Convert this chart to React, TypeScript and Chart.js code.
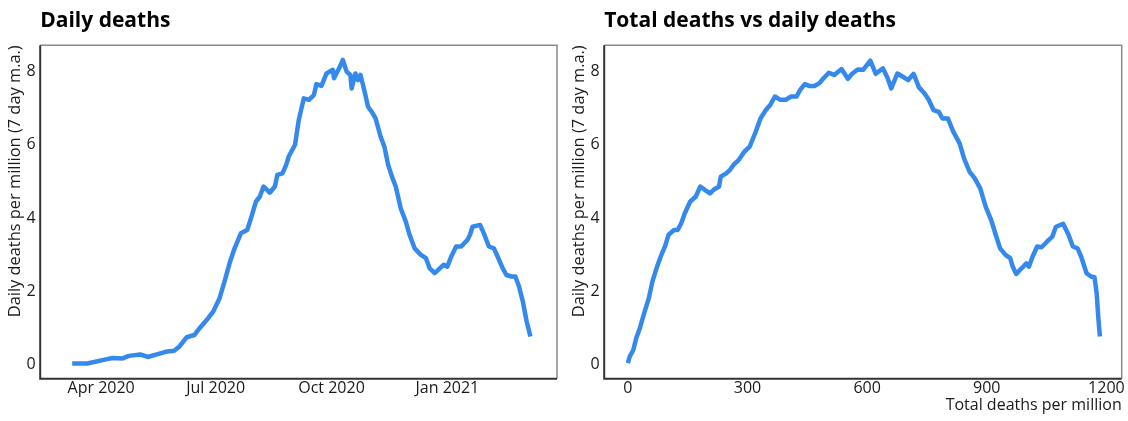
import React, { useEffect, useRef } from 'react';
import { Chart, registerables } from 'chart.js';

Chart.register(...registerables);

// ---- Data ----
const dailyDates = [
  '2020-03-09', '2020-03-21', '2020-04-03', '2020-04-10', '2020-04-18', '2020-04-23',
  '2020-05-02', '2020-05-08', '2020-05-16', '2020-05-22', '2020-05-29', '2020-06-02',
  '2020-06-08', '2020-06-14', '2020-06-18', '2020-06-25', '2020-06-29', '2020-07-04',
  '2020-07-08', '2020-07-12', '2020-07-16', '2020-07-21', '2020-07-26', '2020-07-29',
  '2020-08-02', '2020-08-05', '2020-08-08', '2020-08-13', '2020-08-17', '2020-08-19',
  '2020-08-23', '2020-08-26', '2020-08-28', '2020-09-02', '2020-09-05', '2020-09-09',
  '2020-09-13', '2020-09-17', '2020-09-19', '2020-09-23', '2020-09-27', '2020-10-02',
  '2020-10-03', '2020-10-07', '2020-10-10', '2020-10-13', '2020-10-16', '2020-10-17',
  '2020-10-20', '2020-10-22', '2020-10-24', '2020-10-27', '2020-10-30', '2020-11-02',
  '2020-11-05', '2020-11-09', '2020-11-12', '2020-11-15', '2020-11-18', '2020-11-21',
  '2020-11-25', '2020-11-29', '2020-12-02', '2020-12-06', '2020-12-11', '2020-12-15',
  '2020-12-18', '2020-12-22', '2020-12-26', '2020-12-29', '2021-01-01', '2021-01-04',
  '2021-01-08', '2021-01-12', '2021-01-17', '2021-01-19', '2021-01-21', '2021-01-27',
  '2021-01-30', '2021-02-03', '2021-02-07', '2021-02-10', '2021-02-14', '2021-02-17',
  '2021-02-21', '2021-02-24', '2021-02-27', '2021-03-02', '2021-03-05', '2021-03-08',
];
const dailyDeaths = [
  0.02, 0.02, 0.12, 0.17, 0.16, 0.23,
  0.27, 0.2, 0.28, 0.34, 0.37, 0.48,
  0.74, 0.8, 0.98, 1.26, 1.44, 1.8,
  2.26, 2.76, 3.17, 3.58, 3.67, 3.99,
  4.45, 4.58, 4.86, 4.69, 4.86, 5.18,
  5.22, 5.45, 5.68, 6.0, 6.68, 7.27,
  7.23, 7.36, 7.66, 7.61, 7.95, 8.05,
  7.82, 8.09, 8.32, 8.0, 7.91, 7.54,
  7.95, 7.77, 7.91, 7.5, 7.04, 6.9,
  6.72, 6.22, 5.95, 5.45, 5.13, 4.86,
  4.26, 3.9, 3.54, 3.17, 2.99, 2.9,
  2.62, 2.49, 2.62, 2.72, 2.67, 2.94,
  3.22, 3.22, 3.4, 3.54, 3.76, 3.81,
  3.58, 3.22, 3.17, 2.94, 2.62, 2.44,
  2.4, 2.4, 2.12, 1.71, 1.17, 0.76,
];

const totalDeaths = [
  0, 4.5, 13.6, 20.8, 29.8, 40.7, 52.4, 61.4, 73.2, 82.2,
  93, 102, 115.7, 124.7, 133.7, 142.7, 156.4, 170, 181.7, 192.6,
  206, 215, 228.6, 233, 246.7, 255.7, 264.7, 278.3, 291.9, 305.4,
  319, 332.5, 346, 357, 368.8, 382.4, 396, 409.3, 423, 432,
  443.7, 454.5, 468, 479.8, 490.6, 504, 517.6, 535.8, 552, 563,
  576.5, 590, 608, 621.6, 639.7, 651.5, 660.5, 675.9, 689.4, 703,
  716.6, 730, 743.6, 754.5, 766.3, 779.8, 788.9, 802.4, 816, 832,
  843, 856.6, 870, 883.6, 897.2, 910.8, 922.5, 933.4, 947, 958.7,
  965, 974, 983, 992, 999.4, 1005.7, 1014.8, 1026.5, 1037.3, 1050.9,
  1064.4, 1073.4, 1091.5, 1105, 1115.9, 1127.7, 1136.8, 1150.3, 1161.2, 1170.2,
  1175.6, 1180.2, 1183.8,
];
const totalVsDaily = [
  0.03, 0.21, 0.39, 0.71, 0.98, 1.39, 1.8, 2.26, 2.67, 2.94,
  3.22, 3.54, 3.67, 3.67, 3.85, 4.13, 4.45, 4.58, 4.86, 4.77,
  4.67, 4.77, 4.86, 5.13, 5.22, 5.31, 5.45, 5.59, 5.81, 5.95,
  6.31, 6.72, 6.95, 7.09, 7.32, 7.23, 7.23, 7.32, 7.32, 7.5,
  7.66, 7.61, 7.61, 7.68, 7.82, 7.97, 7.91, 8.07, 7.8, 7.95,
  8.06, 8.05, 8.3, 7.94, 8.09, 7.82, 7.54, 7.95, 7.86, 7.77,
  7.94, 7.57, 7.41, 7.23, 6.95, 6.9, 6.72, 6.72, 6.36, 6.04,
  5.63, 5.27, 5.08, 4.81, 4.31, 3.95, 3.54, 3.17, 2.99, 2.9,
  2.67, 2.47, 2.58, 2.67, 2.76, 2.67, 2.94, 3.22, 3.2, 3.35,
  3.49, 3.76, 3.84, 3.54, 3.22, 3.17, 2.94, 2.49, 2.4, 2.38,
  1.94, 1.21, 0.76,
];

const dateTickDates = ['2020-04-01', '2020-07-01', '2020-10-01', '2021-01-01'];
const dateTickLabels = ['Apr 2020', 'Jul 2020', 'Oct 2020', 'Jan 2021'];
const totalTicks = [0, 300, 600, 900, 1200];
const yTicks = [0, 2, 4, 6, 8];

// ---- Styling / layout ----
const FONT = '"Open Sans", "Noto Sans", sans-serif';
const LINE_COLOR = '#3589EC';
const DAY = 86400000;
const toMs = (s: string) => Date.parse(s + 'T00:00:00Z');
const APR1 = toMs('2020-04-01');

const framePlugin = (title: string) => ({
  id: 'frameTitle',
  afterDraw(chart: any) {
    const { ctx, chartArea } = chart;
    const { left, right, top, bottom } = chartArea;
    ctx.save();
    ctx.strokeStyle = '#8a8a8a';
    ctx.lineWidth = 1.5;
    ctx.beginPath();
    ctx.moveTo(left, top);
    ctx.lineTo(right, top);
    ctx.lineTo(right, bottom);
    ctx.stroke();
    ctx.strokeStyle = '#333333';
    ctx.lineWidth = 2;
    ctx.beginPath();
    ctx.moveTo(left, top);
    ctx.lineTo(left, bottom);
    ctx.lineTo(right, bottom);
    ctx.stroke();
    ctx.fillStyle = '#000000';
    ctx.font = `bold 21px ${FONT}`;
    ctx.textAlign = 'left';
    ctx.textBaseline = 'alphabetic';
    ctx.fillText(title, left, 27);
    ctx.restore();
  },
});

function yScale() {
  return {
    type: 'linear',
    min: -0.394,
    max: 8.72,
    grid: { display: false, drawTicks: false },
    border: { display: false },
    ticks: { font: { family: FONT, size: 16 }, color: '#1a1a1a', padding: 4.5 },
    afterBuildTicks: (s: any) => {
      s.ticks = yTicks.map((v) => ({ value: v }));
    },
    afterFit: (s: any) => {
      s.width = 40.2;
    },
    title: {
      display: true,
      text: 'Daily deaths per million (7 day m.a.)',
      align: 'end',
      color: '#1a1a1a',
      font: { family: FONT, size: 16.4 },
      padding: { top: 5.2, bottom: 0 },
    },
  };
}

function ChartCanvas({ config, left }: { config: any; left: number }) {
  const ref = useRef<HTMLCanvasElement | null>(null);
  useEffect(() => {
    if (!ref.current) return;
    const chart = new Chart(ref.current, config);
    return () => chart.destroy();
  }, [config]);
  return (
    <canvas
      ref={ref}
      width={564}
      height={421}
      style={{ position: 'absolute', left, top: 0, width: 564, height: 421 }}
    />
  );
}

const leftConfig: any = {
  type: 'line',
  data: {
    datasets: [
      {
        data: dailyDates.map((d, i) => ({ x: toMs(d), y: dailyDeaths[i] })),
        borderColor: LINE_COLOR,
        borderWidth: 4.5,
        pointRadius: 0,
        tension: 0,
        borderJoinStyle: 'round',
        fill: false,
      },
    ],
  },
  options: {
    animation: false,
    responsive: false,
    layout: { padding: { left: 0, right: 7, top: 45.3, bottom: 0 } },
    plugins: { legend: { display: false }, title: { display: false }, tooltip: { enabled: false } },
    scales: {
      x: {
        type: 'linear',
        min: APR1 - 48.4 * DAY,
        max: APR1 + 362.1 * DAY,
        grid: { display: false, drawTicks: false },
        border: { display: false },
        ticks: {
          font: { family: FONT, size: 16 },
          color: '#1a1a1a',
          padding: 0.5,
          maxRotation: 0,
          autoSkip: false,
          callback: (_v: any, i: number) => dateTickLabels[i],
        },
        afterBuildTicks: (s: any) => {
          s.ticks = dateTickDates.map((d) => ({ value: toMs(d) }));
        },
        afterFit: (s: any) => {
          s.height = 42.3;
        },
      },
      y: yScale(),
    },
  },
  plugins: [framePlugin('Daily deaths')],
};

const rightConfig: any = {
  type: 'line',
  data: {
    datasets: [
      {
        data: totalDeaths.map((t, i) => ({ x: t, y: totalVsDaily[i] })),
        borderColor: LINE_COLOR,
        borderWidth: 4.5,
        pointRadius: 0,
        tension: 0,
        borderJoinStyle: 'round',
        fill: false,
      },
    ],
  },
  options: {
    animation: false,
    responsive: false,
    layout: { padding: { left: 0, right: 6.3, top: 45.3, bottom: 0 } },
    plugins: { legend: { display: false }, title: { display: false }, tooltip: { enabled: false } },
    scales: {
      x: {
        type: 'linear',
        min: -59.4,
        max: 1238.4,
        grid: { display: false, drawTicks: false },
        border: { display: false },
        ticks: {
          font: { family: FONT, size: 16 },
          color: '#1a1a1a',
          padding: 0.5,
          maxRotation: 0,
          autoSkip: false,
          callback: (v: any) => String(v),
        },
        afterBuildTicks: (s: any) => {
          s.ticks = totalTicks.map((v) => ({ value: v }));
        },
        afterFit: (s: any) => {
          s.height = 42.3;
        },
        title: {
          display: true,
          text: 'Total deaths per million',
          align: 'end',
          color: '#1a1a1a',
          font: { family: FONT, size: 16 },
          padding: { top: 0, bottom: 5.9 },
        },
      },
      y: yScale(),
    },
  },
  plugins: [framePlugin('Total deaths vs daily deaths')],
};

export default function App() {
  return (
    <div
      style={{
        position: 'fixed',
        left: 0,
        top: 0,
        width: 1128,
        height: 421,
        background: '#ffffff',
        overflow: 'hidden',
      }}
    >
      <ChartCanvas config={leftConfig} left={0} />
      <ChartCanvas config={rightConfig} left={564} />
    </div>
  );
}
